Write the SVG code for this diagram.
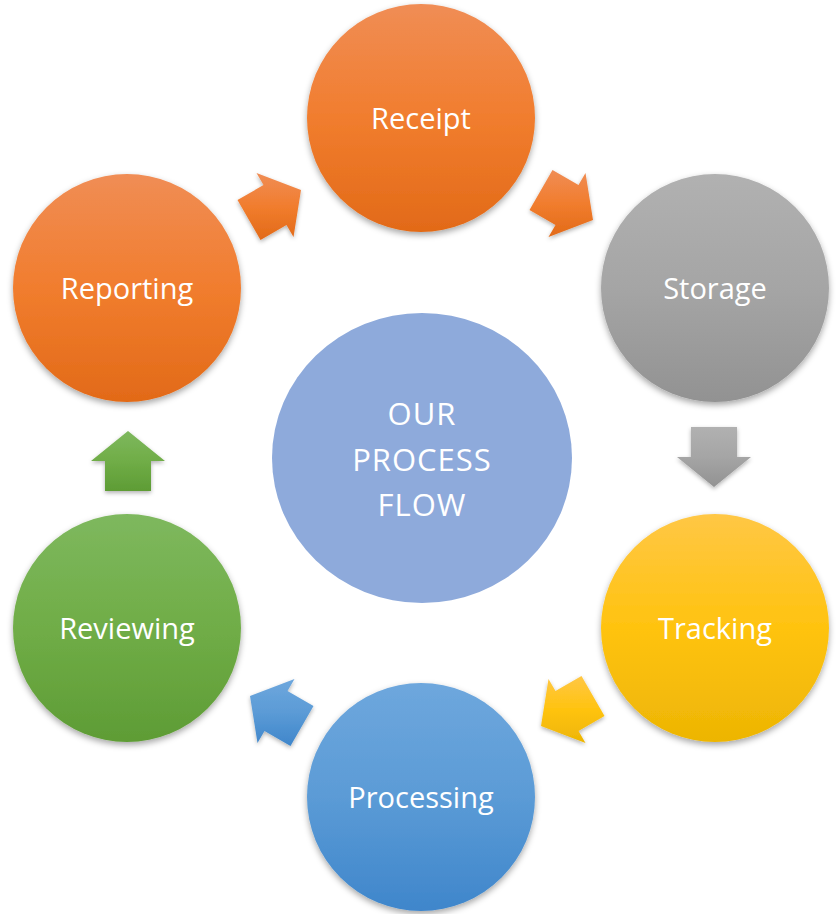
<svg xmlns="http://www.w3.org/2000/svg" width="837" height="914" viewBox="0 0 837 914">
<style>
.lbl{font-family:"Open Sans","Liberation Sans",sans-serif;font-size:29px;fill:#ffffff;text-anchor:middle}
.ctr{font-family:"Open Sans","Liberation Sans",sans-serif;font-size:31px;letter-spacing:1px;fill:#ffffff;text-anchor:middle}
</style>
<defs>
<filter id="sh" x="-20%" y="-20%" width="140%" height="150%">
<feDropShadow dx="0" dy="3" stdDeviation="3" flood-color="#000" flood-opacity="0.35"/>
</filter>
<filter id="sha" x="-30%" y="-30%" width="160%" height="170%">
<feDropShadow dx="0" dy="2" stdDeviation="2" flood-color="#000" flood-opacity="0.3"/>
</filter>
<linearGradient id="gO" x1="0" y1="0" x2="0" y2="1"><stop offset="0" stop-color="#F08D55"/><stop offset="0.5" stop-color="#F17D2E"/><stop offset="1" stop-color="#E26A18"/></linearGradient>
<linearGradient id="gG" x1="0" y1="0" x2="0" y2="1"><stop offset="0" stop-color="#B1B1B1"/><stop offset="0.5" stop-color="#A5A5A5"/><stop offset="1" stop-color="#929292"/></linearGradient>
<linearGradient id="gY" x1="0" y1="0" x2="0" y2="1"><stop offset="0" stop-color="#FFC745"/><stop offset="0.5" stop-color="#FFC30F"/><stop offset="1" stop-color="#EDB504"/></linearGradient>
<linearGradient id="gB" x1="0" y1="0" x2="0" y2="1"><stop offset="0" stop-color="#6EA7DD"/><stop offset="0.5" stop-color="#5B9BD6"/><stop offset="1" stop-color="#3F86CB"/></linearGradient>
<linearGradient id="gN" x1="0" y1="0" x2="0" y2="1"><stop offset="0" stop-color="#7EB85E"/><stop offset="0.5" stop-color="#70AD47"/><stop offset="1" stop-color="#5E9C35"/></linearGradient>
</defs>
<rect width="837" height="914" fill="#ffffff"/>
<g id="connectors">
<polygon id="a1" filter="url(#sha)" fill="url(#gO)" points="237.5,200.1 263.5,185.1 256.5,173 301,190 293.5,237 286.5,224.9 260.5,239.9"/>
<polygon id="a2" filter="url(#sha)" fill="url(#gO)" points="552.5,170.1 578.5,185.1 585.5,173 593,220 548.5,237 555.5,224.9 529.5,209.9"/>
<polygon id="a3" filter="url(#sha)" fill="url(#gG)" points="737,427 737,457 751,457 714,487 677,457 691,457 691,427"/>
<polygon id="a4" filter="url(#sha)" fill="url(#gY)" points="604.5,715.9 578.5,730.9 585.5,743 541,726 548.5,679 555.5,691.1 581.5,676.1"/>
<polygon id="a5" filter="url(#sha)" fill="url(#gB)" points="290.5,745.9 264.5,730.9 257.5,743 250,696 294.5,679 287.5,691.1 313.5,706.1"/>
<polygon id="a6" filter="url(#sha)" fill="url(#gN)" points="105,491 105,461 91,461 128,431 165,461 151,461 151,491"/>
</g>
<g id="center">
<ellipse cx="422" cy="458" rx="150" ry="145" fill="#8EAADB"/>
<text class="ctr" x="422" y="425">OUR</text>
<text class="ctr" x="422" y="471">PROCESS</text>
<text class="ctr" x="422" y="516">FLOW</text>
</g>
<g id="receipt">
<circle cx="421" cy="118" r="114" fill="url(#gO)" filter="url(#sh)"/>
<text class="lbl" x="421" y="129">Receipt</text>
</g>
<g id="storage">
<circle cx="715" cy="288" r="114" fill="url(#gG)" filter="url(#sh)"/>
<text class="lbl" x="715" y="299">Storage</text>
</g>
<g id="tracking">
<circle cx="715" cy="628" r="114" fill="url(#gY)" filter="url(#sh)"/>
<text class="lbl" x="715" y="639">Tracking</text>
</g>
<g id="processing">
<circle cx="421" cy="797" r="114" fill="url(#gB)" filter="url(#sh)"/>
<text class="lbl" x="421" y="808">Processing</text>
</g>
<g id="reviewing">
<circle cx="127" cy="628" r="114" fill="url(#gN)" filter="url(#sh)"/>
<text class="lbl" x="127" y="639">Reviewing</text>
</g>
<g id="reporting">
<circle cx="127" cy="288" r="114" fill="url(#gO)" filter="url(#sh)"/>
<text class="lbl" x="127" y="299">Reporting</text>
</g>
</svg>
